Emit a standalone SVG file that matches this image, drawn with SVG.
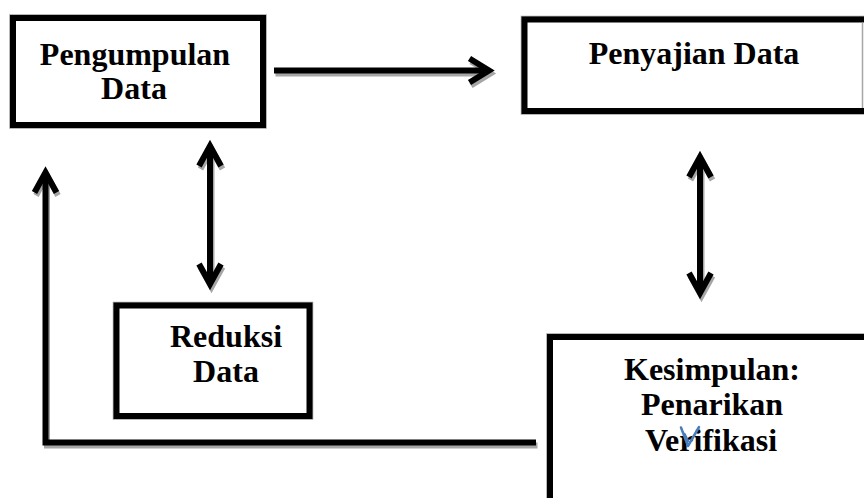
<svg xmlns="http://www.w3.org/2000/svg" xmlns:xlink="http://www.w3.org/1999/xlink" width="864" height="498" viewBox="0 0 864 498">
  <style>
    .box-halo { fill: none; stroke: #a0a0a0; stroke-width: 7.5; }
    .box { fill: #ffffff; stroke: #000000; stroke-width: 6; }
    .label { font-family: "Liberation Serif", "Times New Roman", serif; font-weight: bold; font-size: 32px; fill: #000000; text-anchor: middle; }
  </style>
  <defs>
    <g id="conn-shapes" fill="none" stroke-width="6" stroke-linejoin="miter" stroke-miterlimit="10">
      <!-- Pengumpulan -> Penyajian -->
      <path d="M274,70.5 H488"/>
      <path d="M469.5,58.5 L489,70.5 L469.5,82.5"/>
      <!-- Pengumpulan <-> Reduksi -->
      <path d="M210,148 V282"/>
      <path d="M199,166 L210,146 L221,166"/>
      <path d="M199,264 L210,284 L221,264"/>
      <!-- Penyajian <-> Kesimpulan -->
      <path d="M700,159 V291"/>
      <path d="M689,177 L700,157 L711,177"/>
      <path d="M689,273 L700,293 L711,273"/>
      <!-- Kesimpulan -> Pengumpulan (feedback) -->
      <path d="M536,442.5 H45.5 V175"/>
      <path d="M34.5,192.5 L45.5,172.5 L56.5,192.5"/>
    </g>
  </defs>

  <g id="connectors">
    <use xlink:href="#conn-shapes" href="#conn-shapes" stroke="#a6a6a6" transform="translate(1.5,3)"/>
    <use xlink:href="#conn-shapes" href="#conn-shapes" stroke="#000000"/>
  </g>

  <g id="node-pengumpulan">
    <rect class="box-halo" x="13" y="18" width="250" height="107"/>
    <rect class="box" x="13" y="18" width="250" height="107"/>
    <text class="label" x="135" y="64.5">Pengumpulan</text>
    <text class="label" x="134" y="99">Data</text>
  </g>

  <g id="node-penyajian">
    <rect class="box-halo" x="524.5" y="19.5" width="343" height="91.5"/>
    <rect class="box" x="524.5" y="19.5" width="343" height="91.5"/>
    <line x1="862.5" y1="22.5" x2="862.5" y2="108" stroke="#a6a6a6" stroke-width="1.5"/>
    <text class="label" x="694" y="63.5">Penyajian Data</text>
  </g>

  <g id="node-reduksi">
    <rect class="box-halo" x="116.5" y="305.5" width="193" height="110.5"/>
    <rect class="box" x="116.5" y="305.5" width="193" height="110.5"/>
    <text class="label" x="226" y="346.5">Reduksi</text>
    <text class="label" x="226" y="381.5">Data</text>
  </g>

  <g id="node-kesimpulan">
    <rect class="box-halo" x="550" y="337" width="330" height="200"/>
    <rect class="box" x="550" y="337" width="330" height="200"/>
    <text class="label" x="712" y="380">Kesimpulan:</text>
    <text class="label" x="712" y="415">Penarikan</text>
    <text class="label" x="711" y="451">Verifikasi</text>
    <path d="M681,427.5 L688,446 L699,427 M684.5,434 L688,441" fill="none" stroke="#4a7ebb" stroke-width="2.5" stroke-linecap="round" stroke-linejoin="round"/>
  </g>
</svg>
